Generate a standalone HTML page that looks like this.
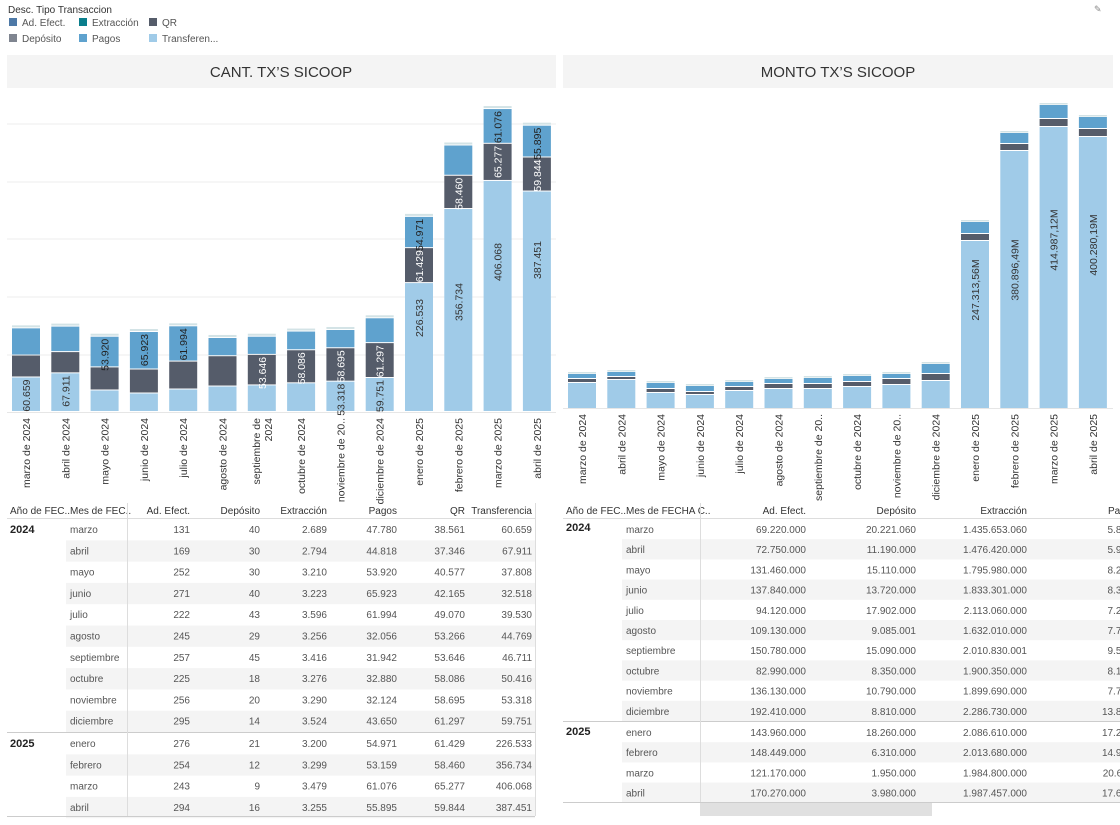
<!DOCTYPE html>
<html><head><meta charset="utf-8">
<style>
html,body{margin:0;padding:0;background:#fff;width:1120px;height:825px;overflow:hidden;font-family:"Liberation Sans",sans-serif;}
svg{position:absolute;left:0;top:0}
</style></head><body>
<svg id="s" width="1120" height="825" xmlns="http://www.w3.org/2000/svg" font-family="Liberation Sans, sans-serif"></svg>
<script>
const s=document.getElementById('s');let o='';
const T='#a0cbe8',Q='#555c6a',P='#5fa2ce',CAP='#d3e3e6';
o+=`<text x="8" y="13" font-size="10" fill="#333">Desc. Tipo Transaccion</text>`;
const lg=[[9,'#4e79a7','Ad. Efect.',24],[79,'#0a7e8c','Extracción',24],[149,'#555c6a','QR',24],[9,'#7f8590','Depósito',40],[79,'#5fa2ce','Pagos',40],[149,'#a0cbe8','Transferen...',40]];
lg.forEach(l=>{o+=`<rect x="${l[0]}" y="${l[3]-6}" width="8" height="8" fill="${l[1]}"/><text x="${l[0]+13}" y="${l[3]+2}" font-size="10" fill="#555">${l[2]}</text>`});
o+=`<text x="1094" y="12" font-size="9" fill="#888">✎</text>`;
o+=`<rect x="7" y="55" width="549" height="33" fill="#f4f4f4"/><text x="281" y="77" font-size="15" text-anchor="middle" fill="#333">CANT. TX’S SICOOP</text>`;
o+=`<rect x="563" y="55" width="550" height="33" fill="#f4f4f4"/><text x="838" y="77" font-size="15" text-anchor="middle" fill="#333">MONTO TX’S SICOOP</text>`;
[124,182,239,297,355].forEach(y=>o+=`<line x1="7" x2="556" y1="${y}" y2="${y}" stroke="#eeeeee"/>`);
o+=`<line x1="7" x2="556" y1="412.5" y2="412.5" stroke="#e6e6e6"/><line x1="563" x2="1113" y1="408.5" y2="408.5" stroke="#e6e6e6"/>`;
const months=['marzo de 2024','abril de 2024','mayo de 2024','junio de 2024','julio de 2024','agosto de 2024','septiembre de|2024','octubre de 2024','noviembre de 20..','diciembre de 2024','enero de 2025','febrero de 2025','marzo de 2025','abril de 2025'];
const monthsR=months.slice();monthsR[6]='septiembre de 20..';
const d=[[60659,38561,47780,2689],[67911,37346,44818,2794],[37808,40577,53920,3210],[32518,42165,65923,3223],[39530,49070,61994,3596],[44769,53266,32056,3256],[46711,53646,31942,3416],[50416,58086,32880,3276],[53318,58695,32124,3290],[59751,61297,43650,3524],[226533,61429,54971,3200],[356734,58460,53159,3299],[406068,65277,61076,3479],[387451,59844,55895,3255]];
const fmt=v=>v.toLocaleString('de-DE');
const tl={0:1,1:1,8:1,9:1,10:318,11:302,12:262,13:260};
const ql={6:1,7:1,8:1,9:1,10:1,11:1,12:1,13:1};
const pl={2:1,3:1,4:1,10:1,12:1,13:1};
const k=0.000569;
function lab(x,y,t,c,anchor){return `<text transform="translate(${x+4},${y}) rotate(-90)" font-size="10.5" fill="${c}" text-anchor="${anchor}">${t}</text>`}
d.forEach((r,i)=>{const cx=26+i*39.3,x=cx-14;let y=412;
 const ht=r[0]*k,hq=r[1]*k,hp=r[2]*k;
 o+=`<rect x="${x}" y="${y-ht}" width="28" height="${ht-1}" fill="${T}"/>`;let tt=y-ht;
 o+=`<rect x="${x}" y="${tt-hq}" width="28" height="${hq-1}" fill="${Q}"/>`;let qt=tt-hq;
 o+=`<rect x="${x}" y="${qt-hp}" width="28" height="${hp-1}" fill="${P}"/>`;let pt=qt-hp;
 o+=`<rect x="${x}" y="${pt-3}" width="28" height="2" fill="${CAP}"/>`;
 if(tl[i]){ if(tl[i]===1)o+=lab(cx,tt+2,fmt(r[0]),'#333','end'); else o+=lab(cx,tl[i],fmt(r[0]),'#333','middle');}
 if(ql[i])o+=lab(cx,qt+2,fmt(r[1]),'#fff','end');
 if(pl[i])o+=lab(cx,pt+2,fmt(r[2]),'#222','end');
 const m=months[i].split('|');
 if(m.length==1)o+=`<text transform="translate(${cx+4},418) rotate(-90)" font-size="10.5" fill="#333" text-anchor="end">${m[0]}</text>`;
 else o+=`<text transform="translate(${cx-2},418) rotate(-90)" font-size="10.5" fill="#333" text-anchor="end">${m[0]}</text><text transform="translate(${cx+10},418) rotate(-90)" font-size="10.5" fill="#333" text-anchor="end">${m[1]}</text>`;
});
const R=[[383,379,374,372],[380,377,372,370],[393,389,383,381],[395,392,386,384],[391,387,382,380],[389,384,379,377],[389,384,378,376],[387,382,376,374],[385,379,374,372],[381,374,364,362],[241,234,222,220],[151,144,133,131],[127,119,105,103],[137,129,117,115]];
const rl={10:['247.313,56M',290],11:['380.896,49M',270],12:['414.987,12M',240],13:['400.280,19M',245]};
R.forEach((r,i)=>{const cx=582+i*39.3,x=cx-14;
 o+=`<rect x="${x}" y="${r[0]}" width="28" height="${408-r[0]}" fill="${T}"/>`;
 o+=`<rect x="${x}" y="${r[1]}" width="28" height="${r[0]-r[1]-1}" fill="${Q}"/>`;
 o+=`<rect x="${x}" y="${r[2]}" width="28" height="${r[1]-r[2]-1}" fill="${P}"/>`;
 o+=`<rect x="${x}" y="${r[3]}" width="28" height="1.5" fill="${CAP}"/>`;
 if(rl[i])o+=lab(cx,rl[i][1],rl[i][0],'#333','middle');
 o+=`<text transform="translate(${cx+4},414) rotate(-90)" font-size="10.5" fill="#333" text-anchor="end">${monthsR[i]}</text>`;
});
const mes=['marzo','abril','mayo','junio','julio','agosto','septiembre','octubre','noviembre','diciembre','enero','febrero','marzo','abril'];
const lt=[[131,40,2689,47780,38561,60659],[169,30,2794,44818,37346,67911],[252,30,3210,53920,40577,37808],[271,40,3223,65923,42165,32518],[222,43,3596,61994,49070,39530],[245,29,3256,32056,53266,44769],[257,45,3416,31942,53646,46711],[225,18,3276,32880,58086,50416],[256,20,3290,32124,58695,53318],[295,14,3524,43650,61297,59751],[276,21,3200,54971,61429,226533],[254,12,3299,53159,58460,356734],[243,9,3479,61076,65277,406068],[294,16,3255,55895,59844,387451]];
const lh=['Ad. Efect.','Depósito','Extracción','Pagos','QR','Transferencia'],lx=[190,260,327,397,465,532];
o+=`<text x="10" y="514" font-size="10" fill="#333">Año de FEC..</text><text x="70" y="514" font-size="10" fill="#333">Mes de FEC..</text>`;
lh.forEach((h,j)=>o+=`<text x="${lx[j]}" y="514" font-size="10" fill="#333" text-anchor="end">${h}</text>`);
o+=`<line x1="7" x2="535" y1="518.5" y2="518.5" stroke="#ddd"/>`;
lt.forEach((r,i)=>{const y=519+i*21.3+(i>=10?1:0);
 if(i%2==1)o+=`<rect x="66" y="${y}" width="469" height="21.3" fill="#f4f4f4"/>`;
 o+=`<text x="70" y="${y+14}" font-size="10" fill="#555">${mes[i]}</text>`;
 r.forEach((v,j)=>o+=`<text x="${lx[j]}" y="${y+14}" font-size="10" fill="#555" text-anchor="end">${fmt(v)}</text>`);
});
o+=`<text x="10" y="533" font-size="11" fill="#222" font-weight="bold">2024</text><text x="10" y="747" font-size="11" fill="#222" font-weight="bold">2025</text>`;
o+=`<line x1="7" x2="535" y1="732.5" y2="732.5" stroke="#ccc"/><line x1="7" x2="535" y1="816.5" y2="816.5" stroke="#ccc"/>`;
o+=`<line x1="127.5" x2="127.5" y1="503" y2="816" stroke="#ddd"/><line x1="535.5" x2="535.5" y1="503" y2="816" stroke="#ddd"/>`;
const rt=[['69.220.000','20.221.060','1.435.653.060','5.829.872'],['72.750.000','11.190.000','1.476.420.000','5.991.888'],['131.460.000','15.110.000','1.795.980.000','8.271.740'],['137.840.000','13.720.000','1.833.301.000','8.386.467'],['94.120.000','17.902.000','2.113.060.000','7.297.876'],['109.130.000','9.085.001','1.632.010.000','7.799.142'],['150.780.000','15.090.000','2.010.830.001','9.584.047'],['82.990.000','8.350.000','1.900.350.000','8.184.529'],['136.130.000','10.790.000','1.899.690.000','7.741.417'],['192.410.000','8.810.000','2.286.730.000','13.856.644'],['143.960.000','18.260.000','2.086.610.000','17.216.452'],['148.449.000','6.310.000','2.013.680.000','14.912.654'],['121.170.000','1.950.000','1.984.800.000','20.611.892'],['170.270.000','3.980.000','1.987.457.000','17.670.458']];
const rx=[806,916,1027,1152];
o+=`<text x="566" y="514" font-size="10" fill="#333">Año de FEC..</text><text x="626" y="514" font-size="10" fill="#333">Mes de FECHA C..</text>`;
['Ad. Efect.','Depósito','Extracción','Pagos'].forEach((h,j)=>o+=`<text x="${j==3?1108:rx[j]}" y="514" font-size="10" fill="#333" text-anchor="${j==3?'start':'end'}">${h}</text>`);
o+=`<line x1="563" x2="1120" y1="518.5" y2="518.5" stroke="#ddd"/>`;
rt.forEach((r,i)=>{const y=519+i*20.2+(i>=10?1:0);
 if(i%2==1)o+=`<rect x="622" y="${y}" width="498" height="20.2" fill="#f4f4f4"/>`;
 o+=`<text x="626" y="${y+14}" font-size="10" fill="#555">${mes[i]}</text>`;
 r.forEach((v,j)=>o+=`<text x="${rx[j]}" y="${y+14}" font-size="10" fill="#555" text-anchor="end">${v}</text>`);
});
o+=`<text x="566" y="531" font-size="11" fill="#222" font-weight="bold">2024</text><text x="566" y="735" font-size="11" fill="#222" font-weight="bold">2025</text>`;
o+=`<line x1="563" x2="1120" y1="721.5" y2="721.5" stroke="#ccc"/><line x1="563" x2="1120" y1="802.5" y2="802.5" stroke="#ccc"/>`;
o+=`<line x1="700.5" x2="700.5" y1="503" y2="802" stroke="#ddd"/>`;
o+=`<rect x="700" y="803" width="232" height="13" fill="#e0e0e0"/>`;
s.innerHTML=o;
</script>
</body></html>
